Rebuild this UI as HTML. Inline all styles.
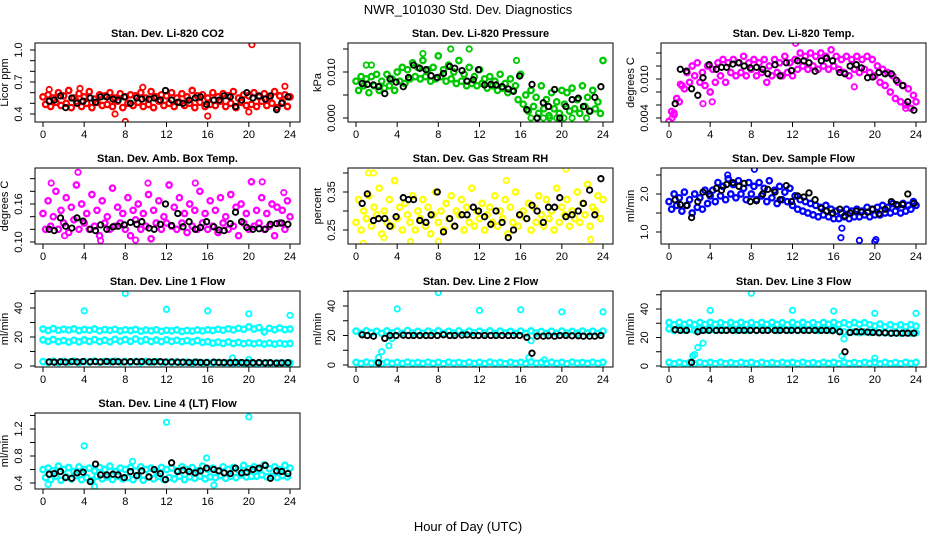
<!DOCTYPE html>
<html><head><meta charset="utf-8"><style>
body{margin:0;background:#fff}
svg{display:block;font-family:"Liberation Sans",Arial,sans-serif}
</style></head><body>
<svg id="chart" width="936" height="540" viewBox="0 0 936 540" xmlns="http://www.w3.org/2000/svg">
<rect width="936" height="540" fill="#fff"/>
<text x="468" y="14" font-size="13" text-anchor="middle">NWR_101030  Std. Dev. Diagnostics</text>
<text x="468" y="531" font-size="13" text-anchor="middle">Hour of Day (UTC)</text>
</svg>
<script>
const blackX=[0.6,1.1,1.7,2.2,2.8,3.3,3.9,4.6,5.1,5.6,6.2,6.8,7.3,7.9,8.5,9.1,9.6,10.3,10.8,11.4,11.9,12.5,13.1,13.6,14.2,14.8,15.3,15.9,16.6,17.1,17.6,18.2,18.7,19.3,19.8,20.4,21,21.6,22.1,22.7,23.2,23.8];
const xTicks=[0,4,8,12,16,20,24];

const co2Main=[0.56,0.49,0.58,0.47,0.55,0.51,0.6,0.48,0.57,0.5,0.62,0.46,0.55,0.52,0.59,0.47,0.56,0.5,0.61,0.46,0.54,0.51,0.58,0.48,0.57,0.49,0.6,0.47,0.55,0.52,0.59,0.46,0.56,0.5,0.58,0.48,0.57,0.51,0.6,0.47,0.55,0.49,0.61,0.46,0.56,0.52,0.58,0.48,0.57,0.5,0.6,0.47,0.55,0.51,0.59,0.48,0.56,0.5,0.62,0.46,0.57,0.51,0.58,0.47,0.55,0.49,0.6,0.48,0.56,0.52,0.59,0.47,0.57,0.5,0.61,0.46,0.55,0.51,0.58,0.48,0.57,0.49,0.6,0.47,0.56,0.52,0.59,0.48,0.55,0.5,0.61,0.46,0.57,0.51,0.58,0.47,0.56];
const co2Extra=[[20.3,1.05],[8,0.33],[16,0.38],[9.7,0.65],[3.6,0.64],[23.5,0.66],[7,0.4],[0.6,0.63],[20,0.42]];
const co2Black=[0.52,0.53,0.57,0.46,0.55,0.5,0.52,0.55,0.51,0.56,0.56,0.54,0.53,0.56,0.5,0.55,0.54,0.54,0.55,0.53,0.62,0.53,0.51,0.5,0.53,0.55,0.56,0.49,0.53,0.53,0.57,0.56,0.47,0.53,0.6,0.55,0.57,0.54,0.57,0.44,0.5,0.56];

const presMain=[0.008,0.006,0.009,0.007,0.0085,0.0055,0.009,0.007,0.0095,0.006,0.008,0.0065,0.0095,0.007,0.0085,0.006,0.01,0.008,0.011,0.0075,0.0105,0.0085,0.012,0.009,0.011,0.0085,0.0125,0.009,0.0105,0.008,0.011,0.0085,0.0135,0.009,0.0105,0.008,0.0115,0.0085,0.01,0.0075,0.0125,0.008,0.0095,0.007,0.011,0.0075,0.009,0.007,0.0105,0.0075,0.0085,0.0065,0.009,0.007,0.008,0.006,0.0095,0.0065,0.0075,0.0055,0.0085,0.006,0.007,0.004,0.0095,0.003,0.005,0.0015,0.006,0.0025,0.0045,0.001,0.007,0.002,0.004,0.0005,0.0055,0.002,0.0035,0.001,0.006,0.003,0.0055,0.0015,0.0065,0.002,0.004,0.001,0.007,0.0025,0.0045,0.0015,0.006,0.002,0.0035,0.001,0.0125];
const presExtra=[[9.2,0.015],[11,0.015],[6.5,0.014],[15.6,0.0125],[17,0],[17.6,0],[18.2,0],[18.8,0],[19.5,0],[20.2,0],[21,0],[22.4,0],[1,0.0115],[1.5,0.0115]];
const presBlack=[0.0075,0.0073,0.0072,0.0068,0.0053,0.0085,0.0078,0.0068,0.0088,0.0115,0.0108,0.0105,0.0092,0.0088,0.0097,0.0112,0.0108,0.0103,0.008,0.0083,0.0105,0.0072,0.0073,0.0072,0.0068,0.0063,0.0058,0.0091,0.0018,0.0073,0,0.0033,0.0025,0.0062,0,0.0025,0.004,0.0043,0.0025,0.0015,0.0045,0.0068];

const tempMain=[0.0035,0.005,0.0045,0.007,0.0065,0.009,0.0085,0.011,0.0095,0.012,0.0105,0.0125,0.0095,0.011,0.009,0.012,0.008,0.0115,0.0095,0.0125,0.0105,0.013,0.0095,0.0125,0.011,0.013,0.0105,0.0125,0.011,0.0135,0.0105,0.0125,0.0115,0.013,0.0105,0.0125,0.011,0.013,0.0095,0.012,0.0105,0.013,0.011,0.0125,0.0105,0.0135,0.011,0.0125,0.0105,0.013,0.0115,0.014,0.012,0.0135,0.0115,0.014,0.012,0.0135,0.0115,0.014,0.012,0.0135,0.0115,0.0145,0.012,0.0135,0.0115,0.013,0.011,0.0135,0.0105,0.013,0.0115,0.0135,0.011,0.013,0.0115,0.0135,0.011,0.013,0.0105,0.012,0.0095,0.0115,0.009,0.011,0.008,0.0105,0.007,0.0095,0.0065,0.009,0.006,0.0085,0.0055,0.0075,0.0065];
const tempExtra=[[0.3,0.004],[0.5,0.0048],[3.3,0.0062],[4.2,0.0065],[12.3,0.0155],[18,0.0088],[23,0.0055],[1.1,0.0092]];
const tempBlack=[0.0062,0.0115,0.0112,0.0085,0.0075,0.0102,0.0122,0.0115,0.0118,0.0118,0.0123,0.0125,0.012,0.0117,0.0118,0.0115,0.0108,0.0122,0.0105,0.0125,0.0113,0.0128,0.0128,0.0125,0.0112,0.0128,0.0132,0.0128,0.011,0.0108,0.012,0.0122,0.0117,0.0102,0.0103,0.011,0.0108,0.0108,0.0098,0.009,0.0065,0.0052];

const boxMain=[0.145,0.12,0.165,0.125,0.14,0.18,0.12,0.15,0.13,0.17,0.115,0.155,0.135,0.19,0.12,0.16,0.13,0.145,0.12,0.175,0.125,0.15,0.11,0.165,0.13,0.14,0.12,0.185,0.125,0.155,0.13,0.145,0.12,0.17,0.11,0.15,0.135,0.16,0.12,0.145,0.125,0.175,0.105,0.15,0.13,0.165,0.12,0.14,0.13,0.19,0.125,0.155,0.12,0.17,0.13,0.145,0.115,0.16,0.125,0.15,0.12,0.18,0.13,0.145,0.12,0.165,0.125,0.15,0.115,0.17,0.13,0.14,0.12,0.175,0.125,0.155,0.11,0.16,0.13,0.145,0.12,0.195,0.125,0.15,0.13,0.17,0.12,0.145,0.125,0.16,0.11,0.155,0.13,0.15,0.12,0.165,0.14];
const boxExtra=[[0.8,0.193],[3.4,0.21],[10.2,0.193],[14.8,0.193],[21.3,0.195],[23.4,0.178],[5.6,0.102],[9,0.103],[2.1,0.11]];
const boxBlack=[0.12,0.118,0.138,0.125,0.122,0.138,0.133,0.12,0.118,0.127,0.12,0.124,0.125,0.127,0.131,0.128,0.132,0.122,0.12,0.128,0.16,0.126,0.145,0.124,0.132,0.12,0.123,0.132,0.124,0.119,0.118,0.129,0.147,0.132,0.123,0.12,0.121,0.12,0.128,0.129,0.13,0.128];

const rhMain=[0.27,0.33,0.25,0.3,0.28,0.34,0.26,0.31,0.29,0.36,0.24,0.3,0.27,0.33,0.26,0.38,0.28,0.31,0.25,0.32,0.29,0.27,0.34,0.25,0.3,0.28,0.33,0.26,0.31,0.24,0.29,0.35,0.27,0.3,0.25,0.32,0.28,0.34,0.26,0.3,0.29,0.33,0.25,0.31,0.27,0.36,0.26,0.3,0.28,0.32,0.25,0.29,0.31,0.27,0.34,0.26,0.3,0.28,0.33,0.24,0.31,0.27,0.35,0.26,0.29,0.3,0.28,0.32,0.25,0.31,0.27,0.34,0.29,0.26,0.33,0.28,0.3,0.25,0.36,0.27,0.31,0.29,0.33,0.26,0.3,0.28,0.35,0.27,0.32,0.29,0.37,0.26,0.31,0.3,0.34,0.28,0.33];
const rhExtra=[[1.2,0.4],[1.7,0.4],[0.7,0.215],[5.3,0.22],[8,0.22],[14.6,0.38],[20.4,0.41],[22.8,0.225],[2.7,0.23]];
const rhBlack=[0.32,0.345,0.275,0.28,0.28,0.26,0.285,0.335,0.33,0.33,0.275,0.27,0.29,0.35,0.245,0.28,0.26,0.29,0.29,0.31,0.3,0.285,0.265,0.3,0.27,0.23,0.25,0.29,0.28,0.315,0.3,0.27,0.31,0.31,0.335,0.285,0.29,0.3,0.32,0.355,0.29,0.385];

const flowMain=[1.8,1.6,2.0,1.7,1.9,1.55,2.05,1.7,1.85,1.5,2.0,1.65,1.9,1.6,2.1,1.75,1.95,2.1,1.8,2.3,1.95,2.2,1.85,2.4,2.0,2.25,1.9,2.35,2.0,2.15,1.85,2.3,2.0,2.2,1.85,2.3,1.95,2.15,1.8,2.35,1.9,2.1,1.75,2.2,1.85,2.05,1.8,2.15,1.7,1.95,1.6,1.85,1.55,1.8,1.5,1.75,1.45,1.7,1.4,1.65,1.45,1.7,1.4,1.6,1.35,1.55,1.35,1.5,1.4,1.6,1.35,1.55,1.4,1.6,1.4,1.55,1.45,1.65,1.4,1.6,1.45,1.65,1.45,1.7,1.5,1.65,1.5,1.75,1.55,1.7,1.5,1.75,1.55,1.7,1.6,1.8,1.7];
const flowExtra=[[8.3,2.65],[16.8,1.1],[16.7,0.85],[18.5,0.78],[20,0.75],[20.1,0.8],[5.7,2.5]];
const flowBlack=[1.85,1.72,1.7,1.38,1.8,2.05,2.0,2.15,2.1,2.25,2.3,2.2,2.28,1.8,1.82,2.0,2.12,2.05,1.85,2.22,1.8,1.95,1.92,2.03,1.85,1.62,1.55,1.5,1.6,1.42,1.5,1.55,1.52,1.52,1.6,1.48,1.6,1.8,1.72,1.72,2.0,1.75];

const l1BandA=[25.5,24.5,25.8,24.6,25.4,24.8,25.6,24.4,25.2,24.7,25.5,24.3,25.1,24.6,25.3,24.2,25,24.5,25.2,24,24.8,24.3,25,23.9,24.6,24.2,24.9,23.8,24.5,24.1,24.8,24.2,25,24.5,25.3,24.7,25.6,24.9,26,25.3,27,25.5,26.5,23.5,26,25,26.2,25.1,25.5];
const l1BandB=[18,17,18.3,16.8,17.6,16.5,17.8,16.6,18,17,18.2,16.9,17.8,16.7,18.4,17.1,18.3,17,18.6,17.2,18.2,16.9,17.9,16.8,18.1,17,17.8,16.8,17.5,16.6,17.6,16.3,16.8,15.8,16.5,15.6,16.6,15.5,16.3,15.4,16,15.3,15.9,15.2,15.8,15.1,15.7,15.2,15.5];
const l1BandC=[3,2.5,3.2,2.4,3,2.6,3.3,2.5,3.1,2.7,3.4,2.6,3.2,2.8,3.3,2.6,3.1,2.5,3.2,2.4,3.1,2.6,3,2.5,2.9,2.4,2.8,2.3,2.7,2.2,2.6,2.1,2.5,2.2,2.4,2,2.3,1.9,2.2,2,2.3,1.8,2.1,1.9,2.2,1.8,2,1.9,2.1];
const l1Extra=[[4,38],[8,50],[12,39],[16,38],[20,36],[24,35],[18.4,5.5],[20,4.5]];
const l1Black=[2.8,2.6,2.9,2.7,3,2.8,3.1,2.9,3,2.8,3.1,2.9,3,2.8,3,2.9,3.1,2.8,2.9,3,2.7,2.8,2.6,2.7,2.5,2.6,2.5,2.4,2.6,2.5,2.4,2.3,2.5,2.4,2.2,2.3,2.4,2.2,2.3,2.1,2.2,2.3];

const l2BandA=[23,21.5,23.2,21.8,22.9,21.4,23.1,21.7,23,21.5,23.3,21.6,22.8,21.5,23,21.7,23.1,21.4,22.9,21.6,23.2,21.5,23,21.8,22.9,21.6,23.1,21.5,23,21.7,22.8,21.5,23,21.4,23.1,21.6,22.7,21.3,22.9,21.5,23,21.6,22.8,21.4,23,21.6,22.9,21.5,23];
const l2BandC=[1.8,1,2,1.2,1.7,0.9,1.9,1.1,1.8,1,2,1.2,1.7,1,1.9,1.1,1.8,0.9,2,1.2,1.7,1,1.9,1.1,1.8,1,2,1.2,1.7,0.9,1.9,1.1,1.8,1,2,1.2,1.7,1,1.9,1.1,1.8,0.9,2,1.2,1.7,1,1.9,1.1,1.8];
const l2Extra=[[4,38],[8,49],[12,37],[16,37.5],[20,36],[24,36],[2.2,5],[2.5,9],[3.2,13],[3.5,18],[16.8,5],[17,16.5],[18.3,3.5]];
const l2Black=[20.5,20,19.5,1.5,18,20,20,20.2,20,20,20,20,20,20,20.5,20,20,20.2,20.4,20,20,20,20,20,20,20,20,20,18.8,8,19.5,19.5,19.8,19.5,20,20,19.8,19.8,19.5,19.5,19.5,20];

const l3BandA=[30.5,29,30.6,29.2,30.4,29,30.5,29.1,30.6,29.3,30.4,29,30.5,29.2,30.6,29.1,30.4,29,30.5,29.2,30.6,29.1,30.4,29,30.5,29.2,30.6,29.1,30.4,29,30.5,29.2,30.6,29.1,30.4,29,30.5,29.2,30.4,29,28,29.5,27.5,29,27.6,28.9,27.5,29,28];
const l3BandB=[26,25,26.2,25.1,25.9,25,26,25.2,26.1,25,25.9,25.1,26,25,26.2,25.1,25.9,25,26,25.2,26.1,25,25.9,25.1,26,25,26.2,25.1,25.9,25,26,25.2,25.9,24.5,24,23.5,24.1,23.4,24,23.5,24,23.4,23.6,23,23.5,23,23.4,23,23.3];
const l3BandC=[2.5,1.6,2.6,1.7,2.4,1.5,2.6,1.8,2.5,1.6,2.7,1.7,2.4,1.6,2.6,1.8,2.5,1.5,2.6,1.7,2.4,1.6,2.6,1.8,2.5,1.6,2.7,1.7,2.4,1.5,2.6,1.8,2.5,1.6,2.6,1.7,2.4,1.6,2.6,1.8,2.5,1.5,2.6,1.7,2.4,1.6,2.6,1.8,2.5];
const l3Extra=[[4,39],[8,51],[12,39],[16,38.5],[20,37],[24,37],[2.3,7],[2.5,8],[2.8,13],[3.3,16],[16.8,7],[17,19],[20,5.5]];
const l3Black=[25.5,25,25,2.5,24,25,25,25,25,25,25,25,25,25,25,25,25,25,25,25,25,25,25,25,25,25,25,24.8,24,10,23.5,24,24,23.8,23.5,23.3,23.2,23,23,23,23,23];

const l4Main=[0.6,0.48,0.62,0.45,0.58,0.5,0.65,0.44,0.6,0.49,0.63,0.46,0.57,0.51,0.64,0.45,0.6,0.48,0.62,0.44,0.58,0.5,0.63,0.46,0.6,0.49,0.65,0.45,0.57,0.5,0.62,0.46,0.6,0.48,0.63,0.45,0.58,0.51,0.64,0.44,0.6,0.49,0.62,0.46,0.57,0.5,0.63,0.45,0.6,0.48,0.62,0.46,0.58,0.5,0.64,0.45,0.6,0.49,0.63,0.47,0.58,0.5,0.65,0.46,0.6,0.49,0.62,0.48,0.58,0.51,0.64,0.47,0.6,0.5,0.63,0.48,0.59,0.52,0.66,0.49,0.61,0.5,0.64,0.5,0.6,0.52,0.67,0.49,0.61,0.5,0.64,0.48,0.6,0.51,0.66,0.49,0.62];
const l4Extra=[[4,0.95],[12,1.3],[20,1.38],[5,0.35],[15.9,0.77],[8.7,0.72],[0.5,0.38],[16.6,0.37]];
const l4Black=[0.53,0.54,0.57,0.48,0.47,0.55,0.56,0.42,0.68,0.52,0.52,0.53,0.52,0.48,0.57,0.51,0.58,0.49,0.6,0.54,0.45,0.7,0.57,0.59,0.57,0.55,0.58,0.62,0.6,0.58,0.55,0.54,0.62,0.55,0.56,0.6,0.62,0.66,0.47,0.58,0.57,0.54];

const colLeft=[35,348,661], rowTop=[43,168,291,413], rowBot=[122,244,367,489];
const panels=[
 {name:'co2',title:'Stan. Dev. Li-820 CO2',yl:'Licor ppm',c:0,r:0,col:'#ff0000',a:[0.4,114,1.0,50],ticks:[0.4,0.5,0.6,0.7,0.8,0.9,1.0],labs:{0.4:'0.4',0.7:'0.7',1:'1.0'},series:[co2Main],extra:co2Extra,black:co2Black},
 {name:'pressure',title:'Stan. Dev. Li-820 Pressure',yl:'kPa',c:1,r:0,col:'#00c800',a:[0,118,0.01,72],ticks:[0,0.005,0.01,0.015],labs:{0:'0.000',0.01:'0.010'},series:[presMain],extra:presExtra,black:presBlack},
 {name:'temp',title:'Stan. Dev. Li-820 Temp.',yl:'degrees C',c:2,r:0,col:'#ff00ff',a:[0.004,118,0.01,79],ticks:[0.004,0.006,0.008,0.01,0.012,0.014],labs:{0.004:'0.004',0.01:'0.010'},series:[tempMain],extra:tempExtra,black:tempBlack},
 {name:'box-temp',title:'Stan. Dev. Amb. Box Temp.',yl:'degrees C',c:0,r:1,col:'#ff00ff',a:[0.1,242,0.16,204],ticks:[0.1,0.12,0.14,0.16,0.18,0.2],labs:{0.1:'0.10',0.16:'0.16'},series:[boxMain],extra:boxExtra,black:boxBlack},
 {name:'rh',title:'Stan. Dev. Gas Stream RH',yl:'percent',c:1,r:1,col:'#ffff00',a:[0.25,230,0.35,192],ticks:[0.25,0.3,0.35,0.4],labs:{0.25:'0.25',0.35:'0.35'},series:[rhMain],extra:rhExtra,black:rhBlack},
 {name:'sample-flow',title:'Stan. Dev. Sample Flow',yl:'ml/min',c:2,r:1,col:'#0000ff',a:[1,232,2,194],ticks:[1,1.5,2,2.5],labs:{1:'1.0',2:'2.0'},series:[flowMain],extra:flowExtra,black:flowBlack},
 {name:'line1',title:'Stan. Dev. Line 1 Flow',yl:'ml/min',c:0,r:2,col:'#00ffff',a:[0,366,40,308],ticks:[0,10,20,30,40,50],labs:{0:'0',20:'20',40:'40'},series:[l1BandA,l1BandB,l1BandC],extra:l1Extra,black:l1Black},
 {name:'line2',title:'Stan. Dev. Line 2 Flow',yl:'ml/min',c:1,r:2,col:'#00ffff',a:[0,365,40,306],ticks:[0,10,20,30,40,50],labs:{0:'0',20:'20',40:'40'},series:[l2BandA,l2BandC],extra:l2Extra,black:l2Black},
 {name:'line3',title:'Stan. Dev. Line 3 Flow',yl:'ml/min',c:2,r:2,col:'#00ffff',a:[0,366,40,309],ticks:[0,10,20,30,40,50],labs:{0:'0',20:'20',40:'40'},series:[l3BandA,l3BandB,l3BandC],extra:l3Extra,black:l3Black},
 {name:'line4',title:'Stan. Dev. Line 4 (LT) Flow',yl:'ml/min',c:0,r:3,col:'#00ffff',a:[0.4,483,1.2,429],ticks:[0.4,0.6,0.8,1.0,1.2,1.4],labs:{0.4:'0.4',0.8:'0.8',1.2:'1.2'},series:[l4Main],extra:l4Extra,black:l4Black}
];
const NS='http://www.w3.org/2000/svg', svg=document.getElementById('chart');
function mk(t,at,parent){const e=document.createElementNS(NS,t);for(const k in at)e.setAttribute(k,at[k]);(parent||svg).appendChild(e);return e;}
function circ(g,x,y,col,sw){const c=mk('circle',{cx:x.toFixed(1),cy:y.toFixed(1),r:2.7,fill:'none',stroke:col,'stroke-width':sw},g);

}
panels.forEach((p,i)=>{
 const L=colLeft[p.c],R=L+265,T=rowTop[p.r],B=rowBot[p.r];
 const xs=h=>L+8+h*(247/24);
 const ys=v=>p.a[1]+(v-p.a[0])*(p.a[3]-p.a[1])/(p.a[2]-p.a[0]);
 const g=mk('g',{});
 
 
 const cp=mk('clipPath',{id:'cp'+i},g);mk('rect',{x:L,y:T,width:R-L,height:B-T},cp);
 const pts=mk('g',{'clip-path':'url(#cp'+i+')'},g);
 
 
 p.series.forEach(s=>s.forEach((v,j)=>circ(pts,xs(j*24/(s.length-1)),ys(v),p.col,2.3)));
 p.extra.forEach(d=>circ(pts,xs(d[0]),ys(d[1]),p.col,1.8));
 p.black.forEach((v,j)=>circ(pts,xs(blackX[j]),ys(v),'#000',1.9));
 const box=mk('rect',{x:L,y:T,width:R-L,height:B-T,fill:'none',stroke:'#000','stroke-width':1},g);
 
 
 const tt=mk('text',{x:(L+R)/2,y:T-6,'font-size':11,'font-weight':'bold','text-anchor':'middle'},g);tt.textContent=p.title;
 
 
 mk('line',{x1:xs(0),x2:xs(24),y1:B,y2:B,stroke:'#000'},g);
 xTicks.forEach(h=>{mk('line',{x1:xs(h),x2:xs(h),y1:B,y2:B+5,stroke:'#000'},g);
  const t=mk('text',{x:xs(h),y:B+16,'font-size':11,'text-anchor':'middle'},g);t.textContent=h;
  
  });
 const y0=ys(p.ticks[0]),y1=ys(p.ticks[p.ticks.length-1]);
 mk('line',{x1:L,x2:L,y1:y0,y2:y1,stroke:'#000'},g);
 p.ticks.forEach(v=>{const y=ys(v);mk('line',{x1:L-5,x2:L,y1:y,y2:y,stroke:'#000'},g);
  const lab=p.labs[v];if(lab!==undefined){const t=mk('text',{x:L-13,y:y,'font-size':11,'text-anchor':'middle',transform:'rotate(-90 '+(L-13)+' '+y+')'},g);t.textContent=lab;
  
  }});
 const yc=(T+B)/2;const yt=mk('text',{x:L-27,y:yc,'font-size':11,'text-anchor':'middle',transform:'rotate(-90 '+(L-27)+' '+yc+')'},g);yt.textContent=p.yl;
 
 
});
</script>
</body></html>
